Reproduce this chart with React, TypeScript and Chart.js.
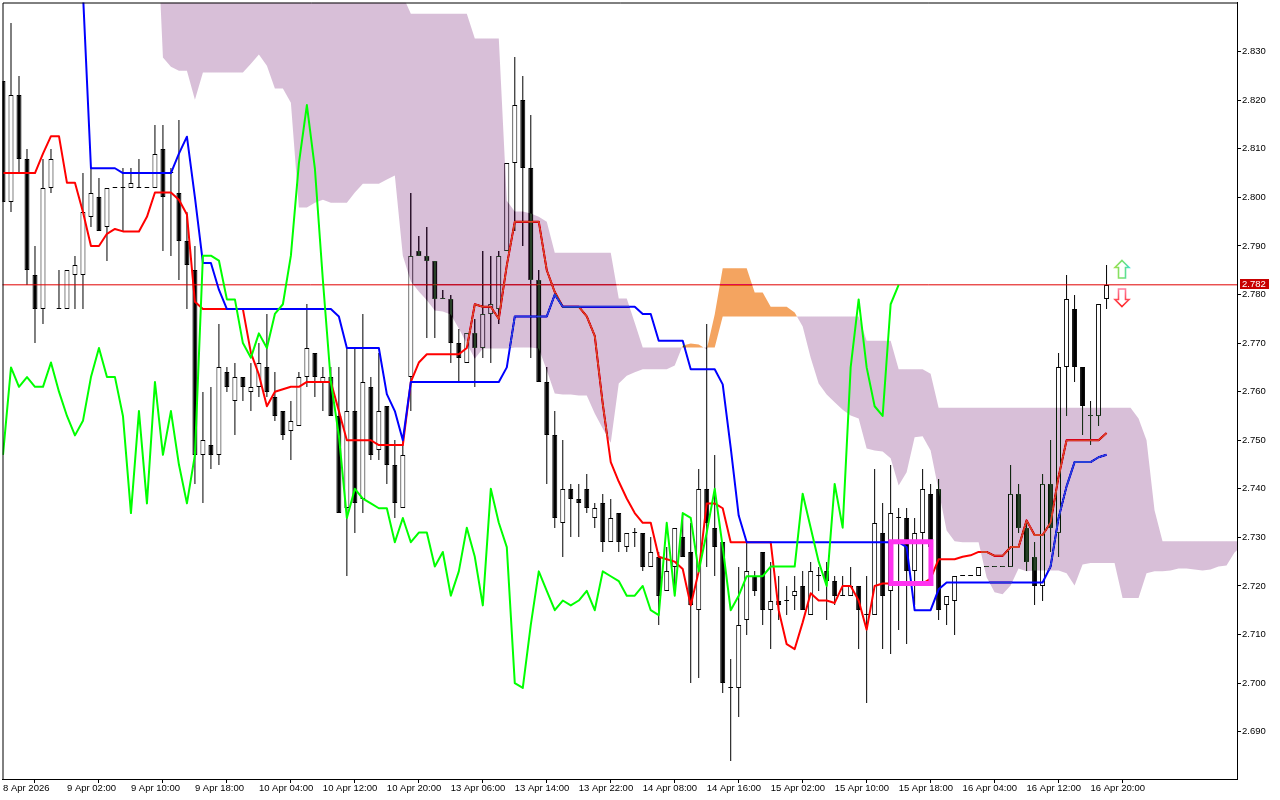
import React, { useEffect, useRef } from "react";
import { Chart, registerables } from "chart.js";

Chart.register(...registerables);

const opens = [
  2.824,2.799,2.821,2.808,2.784,2.777,2.802,2.777,2.777,2.784,
  2.784,2.796,2.800,2.794,2.802,2.802,2.802,2.802,2.802,2.802,
  2.810,2.805,2.801,2.791,2.785,2.747,2.749,2.747,2.764,2.758,
  2.763,2.760,2.761,2.765,2.759,2.756,2.752,2.753,2.763,2.768,
  2.762,2.763,2.755,2.736,2.756,2.738,2.761,2.748,2.757,2.745,
  2.736,2.763,2.789,2.788,2.787,2.779,2.779,2.770,2.766,2.772,
  2.769,2.776,2.777,2.789,2.807,2.820,2.806,2.783,2.762,2.751,
  2.733,2.740,2.738,2.740,2.734,2.737,2.729,2.735,2.728,2.731,
  2.731,2.724,2.726,2.719,2.724,2.730,2.727,2.715,2.740,2.732,
  2.729,2.699,2.699,2.713,2.722,2.727,2.715,2.717,2.717,2.718,
  2.720,2.714,2.722,2.723,2.721,2.718,2.718,2.720,2.714,2.714,
  2.731,2.719,2.734,2.734,2.723,2.731,2.739,2.740,2.716,2.717,
  2.722,2.722,2.722,2.724,2.724,2.724,2.724,2.739,2.732,2.726,
  2.720,2.741,2.731,2.765,2.777,2.765,2.755,2.755,2.779,
];
const highs = [
  2.824,2.836,2.825,2.810,2.790,2.808,2.810,2.785,2.785,2.788,
  2.805,2.806,2.804,2.802,2.802,2.806,2.806,2.808,2.802,2.815,
  2.815,2.806,2.816,2.797,2.790,2.760,2.761,2.774,2.765,2.766,
  2.763,2.766,2.770,2.776,2.764,2.756,2.758,2.764,2.778,2.768,
  2.765,2.765,2.765,2.769,2.769,2.776,2.763,2.768,2.757,2.750,
  2.751,2.801,2.792,2.794,2.787,2.781,2.780,2.773,2.772,2.775,
  2.789,2.788,2.789,2.807,2.829,2.825,2.817,2.785,2.765,2.756,
  2.750,2.741,2.741,2.743,2.737,2.739,2.738,2.735,2.731,2.732,
  2.731,2.730,2.727,2.728,2.732,2.735,2.733,2.744,2.774,2.747,
  2.729,2.705,2.724,2.729,2.723,2.727,2.725,2.722,2.720,2.722,
  2.723,2.725,2.724,2.725,2.722,2.722,2.724,2.720,2.722,2.744,
  2.737,2.745,2.736,2.736,2.734,2.744,2.741,2.742,2.718,2.722,
  2.722,2.722,2.724,2.724,2.724,2.724,2.745,2.741,2.733,2.729,
  2.743,2.750,2.768,2.784,2.780,2.765,2.758,2.778,2.786,
];
const lows = [
  2.799,2.797,2.805,2.782,2.770,2.774,2.801,2.777,2.777,2.777,
  2.777,2.794,2.793,2.787,2.802,2.793,2.802,2.802,2.802,2.802,
  2.789,2.788,2.783,2.777,2.741,2.737,2.744,2.745,2.760,2.751,
  2.758,2.756,2.759,2.759,2.754,2.750,2.746,2.753,2.761,2.759,
  2.756,2.755,2.735,2.722,2.731,2.735,2.746,2.746,2.741,2.734,
  2.736,2.756,2.788,2.771,2.771,2.779,2.766,2.762,2.766,2.761,
  2.767,2.766,2.774,2.789,2.793,2.790,2.767,2.762,2.741,2.732,
  2.726,2.730,2.730,2.735,2.732,2.727,2.729,2.727,2.727,2.728,
  2.723,2.724,2.712,2.719,2.719,2.726,2.700,2.701,2.724,2.722,
  2.698,2.684,2.693,2.710,2.718,2.712,2.707,2.713,2.714,2.715,
  2.715,2.714,2.719,2.713,2.716,2.718,2.718,2.707,2.696,2.714,
  2.707,2.706,2.711,2.708,2.716,2.721,2.721,2.713,2.712,2.710,
  2.722,2.722,2.722,2.724,2.724,2.724,2.724,2.731,2.723,2.716,
  2.717,2.727,2.726,2.755,2.762,2.751,2.749,2.753,2.777,
];
const closes = [
  2.799,2.821,2.808,2.785,2.777,2.802,2.808,2.777,2.785,2.786,
  2.797,2.801,2.793,2.802,2.802,2.802,2.803,2.802,2.802,2.809,
  2.800,2.805,2.791,2.786,2.747,2.750,2.747,2.765,2.761,2.763,
  2.761,2.761,2.766,2.760,2.755,2.751,2.754,2.763,2.769,2.763,
  2.763,2.755,2.735,2.756,2.737,2.762,2.747,2.756,2.745,2.737,
  2.747,2.788,2.788,2.787,2.779,2.779,2.770,2.767,2.772,2.769,
  2.776,2.778,2.788,2.807,2.819,2.806,2.783,2.762,2.751,2.734,
  2.740,2.738,2.737,2.736,2.736,2.729,2.734,2.729,2.731,2.731,
  2.724,2.727,2.718,2.723,2.732,2.726,2.716,2.740,2.733,2.728,
  2.700,2.699,2.712,2.723,2.719,2.715,2.717,2.716,2.717,2.719,
  2.715,2.723,2.722,2.721,2.718,2.718,2.720,2.715,2.714,2.733,
  2.718,2.735,2.734,2.723,2.731,2.740,2.728,2.715,2.718,2.722,
  2.722,2.722,2.724,2.724,2.724,2.724,2.739,2.732,2.725,2.720,
  2.741,2.732,2.765,2.779,2.765,2.757,2.755,2.778,2.782,
];
const tenkan = [
  2.805,2.805,2.805,2.805,2.805,2.809,2.8126,2.8126,2.803,2.803,
  2.797,2.790,2.790,2.7925,2.7935,2.793,2.793,2.793,2.796,2.801,
  2.801,2.801,2.7995,2.7965,2.7785,2.777,2.777,2.777,2.777,2.777,
  2.777,2.768,2.7635,2.757,2.760,2.7605,2.761,2.761,2.762,2.762,
  2.762,2.762,2.756,2.750,2.750,2.750,2.750,2.749,2.749,2.749,
  2.749,2.762,2.766,2.7677,2.7677,2.7677,2.7677,2.7677,2.769,2.778,
  2.7775,2.7775,2.775,2.786,2.795,2.795,2.795,2.795,2.785,2.7805,
  2.7775,2.7775,2.7775,2.7755,2.7715,2.7575,2.7455,2.7415,2.738,2.735,
  2.733,2.733,2.726,2.7255,2.725,2.7235,2.716,2.723,2.737,2.737,
  2.736,2.729,2.729,2.729,2.729,2.729,2.729,2.715,2.708,2.707,
  2.7125,2.7185,2.717,2.717,2.7165,2.720,2.720,2.717,2.711,2.720,
  2.7205,2.7205,2.7205,2.7205,2.7205,2.7205,2.7215,2.7255,2.7255,2.7255,
  2.726,2.7263,2.727,2.727,2.7262,2.7262,2.728,2.728,2.7335,2.7305,
  2.7305,2.733,2.7425,2.750,2.750,2.750,2.750,2.750,2.7515,
];
const kijunStart = 10;
const kijun = [
  2.842,2.806,2.806,2.806,2.806,2.805,2.805,2.805,2.805,2.805,2.805,2.805,
  2.809,2.8125,2.800,2.7865,2.7865,2.781,
  2.777,2.777,2.777,2.777,2.777,2.777,2.777,2.777,2.777,2.777,2.777,2.777,2.777,2.777,
  2.7755,2.769,2.769,2.769,2.769,2.769,2.7595,2.756,2.750,
  2.762,2.762,2.762,2.762,2.762,2.762,2.762,2.762,2.762,2.762,2.762,2.762,
  2.765,2.7755,2.7755,2.7755,2.7755,2.7755,2.780,
  2.7775,2.7775,2.7775,2.7775,2.7775,2.7775,2.7775,2.7775,2.7775,2.7775,
  2.776,2.776,2.7705,2.7705,2.7705,2.7705,2.7646,2.7646,2.7646,2.7646,2.7615,2.7485,2.7345,
  2.729,2.729,2.729,2.729,2.729,2.729,2.729,2.729,2.729,2.729,
  2.729,2.729,2.729,2.729,2.729,2.729,2.729,2.729,2.729,2.729,
  2.728,2.715,2.715,2.715,2.7193,
  2.7207,2.7207,2.7207,2.7207,2.7207,2.7207,2.7207,2.7207,2.7207,2.7207,2.7207,2.7207,2.7207,
  2.724,2.734,2.7405,2.7455,2.7455,2.7455,2.7465,2.747,
];
const chikou = [
  2.747,2.765,2.761,2.763,
  2.761,2.761,2.766,2.760,2.755,2.751,2.754,2.763,2.769,2.763,
  2.763,2.755,2.735,2.756,2.737,2.762,2.747,2.756,2.745,2.737,
  2.747,2.788,2.788,2.787,2.779,2.779,2.770,2.767,2.772,2.769,
  2.776,2.778,2.788,2.807,2.819,2.806,2.783,2.762,2.751,2.734,
  2.740,2.738,2.737,2.736,2.736,2.729,2.734,2.729,2.731,2.731,
  2.724,2.727,2.718,2.723,2.732,2.726,2.716,2.740,2.733,2.728,
  2.700,2.699,2.712,2.723,2.719,2.715,2.717,2.716,2.717,2.719,
  2.715,2.723,2.722,2.721,2.718,2.718,2.720,2.715,2.714,2.733,
  2.718,2.735,2.734,2.723,2.731,2.740,2.728,2.715,2.718,2.722,
  2.722,2.722,2.724,2.724,2.724,2.724,2.739,2.732,2.725,2.720,
  2.741,2.732,2.765,2.779,2.765,2.757,2.755,2.778,2.782,
];
const cloudStart = 19;
const senkouA = [
  2.8658,2.8288,2.8269,2.8261,2.8261,2.8201,2.8257,2.8257,2.8257,2.8257,2.8257,2.8257,
  2.8275,2.8294,2.8271,2.8224,2.8224,2.8195,2.7979,2.7979,2.7989,2.7995,2.7989,2.7989,2.7989,
  2.8010,2.8028,2.8028,2.8028,2.8037,2.8045,2.7880,2.7827,2.7806,2.7788,2.7767,2.7765,2.7759,
  2.7730,2.7699,2.7668,2.7689,2.7689,2.7689,2.7689,2.7691,2.7691,2.7691,2.7689,2.7644,2.7596,
  2.7594,2.7594,2.7592,2.7592,2.7555,2.7524,2.7495,2.7617,2.7633,2.7640,2.7646,2.7646,2.7646,2.7646,
  2.7654,2.7695,2.7699,2.7697,2.7687,2.7759,2.7854,2.7854,2.7854,2.7854,2.7804,2.7804,
  2.7775,2.7775,2.7775,2.7763,2.7734,2.7670,2.7617,2.7594,2.7578,2.7563,2.7551,2.7545,
  2.7483,2.7479,2.7477,2.7463,2.7407,2.7434,2.7506,2.7508,2.7479,2.7397,2.7314,2.7292,
  2.7290,2.7290,2.7290,2.7218,2.7187,2.7183,2.7201,2.7236,2.7230,2.7232,2.7232,2.7232,2.7232,
  2.7226,2.7201,2.7244,2.7247,2.7247,2.7247,2.7247,2.7175,2.7175,2.7175,2.7226,2.7230,2.7230,
  2.7232,2.7236,2.7236,2.7234,2.7232,2.7234,2.7240,2.7242,2.7269,2.7284,
];
const senkouB = [
  2.8658,
  2.88,2.88,2.88,2.88,2.88,2.88,2.88,2.88,2.88,2.88,
  2.88,2.88,2.88,2.88,2.88,2.88,2.88,2.88,2.88,2.88,
  2.88,2.88,2.88,2.88,2.88,2.88,2.88,2.88,2.88,2.88,
  2.8415,2.8378,2.8378,2.8378,2.8378,2.8378,2.8378,2.8378,2.8378,
  2.8327,2.8327,2.8327,2.8327,2.7993,2.7971,2.7971,2.7967,2.7960,2.7950,
  2.7886,2.7886,2.7886,2.7886,2.7886,2.7886,2.7886,2.7886,
  2.7792,2.7792,2.7742,
  2.7691,2.7691,2.7691,2.7691,2.7691,2.7691,2.7691,2.7691,2.7691,2.7691,
  2.7755,2.7755,2.7755,2.7755,2.7755,2.7755,2.7755,2.7755,2.7755,
  2.7755,2.7755,2.7755,2.7755,2.7755,2.7755,2.7755,2.7755,2.7755,
  2.7705,2.7705,2.7705,2.7705,2.7646,2.7646,2.7646,2.7646,2.7637,
  2.7567,2.7567,2.7567,2.7567,2.7567,2.7567,2.7567,2.7567,2.7567,2.7567,2.7567,2.7567,2.7567,
  2.7567,2.7567,2.7567,2.7567,2.7567,2.7567,2.7567,2.7567,2.7567,2.7567,2.7567,2.7567,
  2.7545,2.7500,2.7356,
  2.7292,2.7292,2.7292,2.7292,2.7292,2.7292,2.7292,2.7292,2.7292,2.7292,2.7292,
];
const timeLabels = [
  "8 Apr 2026","9 Apr 02:00","9 Apr 10:00","9 Apr 18:00","10 Apr 04:00","10 Apr 12:00",
  "10 Apr 20:00","13 Apr 06:00","13 Apr 14:00","13 Apr 22:00","14 Apr 08:00","14 Apr 16:00",
  "15 Apr 02:00","15 Apr 10:00","15 Apr 18:00","16 Apr 04:00","16 Apr 12:00","16 Apr 20:00",
];
const timeLabelStep = 8;
const priceTicks = [2.69,2.70,2.71,2.72,2.73,2.74,2.75,2.76,2.77,2.78,2.79,2.80,2.81,2.82,2.83];
const lastPrice = 2.782;
const boxBars = [111.04, 116.04];
const boxPrices = [2.7291, 2.7205];
const arrowBar = 140;
const arrowUpPrice = 2.7853;
const arrowDownPrice = 2.7793;

const FONT = "'Liberation Sans', Arial, sans-serif";
// Colours that turn white into the cloud's thistle / sandy brown under "difference" blending.
const THISTLE_BLEND = "#274027";
const SANDY_BLEND = "#0b5b9f";
const pts = (vals: number[], start = 0) => vals.map((y, i) => ({ x: i + start, y }));

const crispBars = {
  id: "crispBars",
  afterDatasetsUpdate(chart: any) {
    chart.getSortedVisibleDatasetMetas().forEach((m: any) => {
      if (m.type !== "bar") return;
      m.data.forEach((el: any) => {
        el.y = Math.round(el.y);
        el.base = Math.round(el.base);
      });
    });
  },
};

const xorCloud = {
  id: "xorCloud",
  beforeDraw(chart: any) {
    const c = chart.ctx;
    c.save();
    c.fillStyle = "#ffffff";
    c.fillRect(0, 0, chart.width, chart.height);
    c.restore();
  },
  afterDatasetDraw(chart: any, args: any) {
    const label = chart.data.datasets[args.index].label;
    if (label === "Senkou B") chart.ctx.globalCompositeOperation = "difference";
    if (label === "Senkou A") chart.ctx.globalCompositeOperation = "source-over";
  },
};

const overlays = {
  id: "overlays",
  afterDraw(chart: any) {
    const c = chart.ctx;
    const a = chart.chartArea;
    const x = chart.scales.x;
    const y = chart.scales.y;
    c.save();
    c.globalCompositeOperation = "source-over";
    c.strokeStyle = "#000";
    c.lineWidth = 1;
    c.beginPath();
    c.moveTo(a.left + 0.5, a.bottom);
    c.lineTo(a.left + 0.5, a.top + 0.5);
    c.lineTo(a.right + 0.5, a.top + 0.5);
    c.lineTo(a.right + 0.5, a.bottom);
    c.stroke();

    const ax = Math.floor(x.getPixelForValue(arrowBar));
    const up = Math.round(y.getPixelForValue(arrowUpPrice));
    const dn = Math.round(y.getPixelForValue(arrowDownPrice));
    const poly = (dir: number, cy: number) => {
      c.beginPath();
      c.moveTo(ax, cy - 8.5 * dir);
      c.lineTo(ax + 7, cy - 1.5 * dir);
      c.lineTo(ax + 3.5, cy - 1.5 * dir);
      c.lineTo(ax + 3.5, cy + 9 * dir);
      c.lineTo(ax - 3.5, cy + 9 * dir);
      c.lineTo(ax - 3.5, cy - 1.5 * dir);
      c.lineTo(ax - 7, cy - 1.5 * dir);
      c.closePath();
    };
    c.fillStyle = "#ffffff";
    c.lineWidth = 1.6;
    const gu = c.createLinearGradient(ax - 8, 0, ax + 8, 0);
    gu.addColorStop(0, "#a0e050");
    gu.addColorStop(0.55, "#70e070");
    gu.addColorStop(1, "#40e0d0");
    poly(1, up);
    c.fill();
    c.strokeStyle = gu;
    c.stroke();
    const gd = c.createLinearGradient(0, dn - 9, 0, dn + 9);
    gd.addColorStop(0, "#ff80a0");
    gd.addColorStop(1, "#ff2020");
    poly(-1, dn);
    c.fill();
    c.strokeStyle = gd;
    c.stroke();

    const py = Math.floor(y.getPixelForValue(lastPrice));
    c.fillStyle = "#c80000";
    c.fillRect(1240, py - 5, 29, 10);
    c.fillStyle = "#ffffff";
    c.font = `9.5px ${FONT}`;
    c.textAlign = "left";
    c.textBaseline = "middle";
    c.fillText(lastPrice.toFixed(3), 1242, py + 0.5);
    c.restore();
  },
};

export default function App() {
  const ref = useRef<HTMLCanvasElement | null>(null);
  useEffect(() => {
    const line = (label: string, data: any[], color: string, order: number, width = 2, extra: any = {}) => ({
      type: "line",
      label,
      data,
      borderColor: color,
      borderWidth: width,
      pointRadius: 0,
      tension: 0,
      fill: false,
      order,
      borderJoinStyle: "round",
      ...extra,
    });
    const clearPad = (s: any) => {
      s.paddingTop = 0;
      s.paddingBottom = 0;
      s.paddingLeft = 0;
      s.paddingRight = 0;
    };
    const cloudIndex = 6;
    const chart = new Chart(ref.current as HTMLCanvasElement, {
      type: "bar",
      data: {
        datasets: [
          {
            type: "bar",
            label: "Wick",
            data: highs.map((h, i) => ({ x: i, y: [lows[i], h] })),
            backgroundColor: "#000",
            barThickness: 1,
            grouped: false,
            borderWidth: 0,
            inflateAmount: 0,
            order: 10,
          },
          {
            type: "bar",
            label: "Body",
            data: opens.map((o, i) => ({ x: i, y: [Math.min(o, closes[i]), Math.max(o, closes[i])] })),
            backgroundColor: opens.map((o, i) => (closes[i] >= o ? "#ffffff" : "#000000")),
            borderColor: "#000",
            borderWidth: 1,
            borderSkipped: false,
            barThickness: 5,
            minBarLength: 1,
            grouped: false,
            inflateAmount: 0,
            order: 9,
          },
          line("Price", [{ x: -1, y: lastPrice }, { x: 156, y: lastPrice }], "#e00000", 8, 1),
          line("Tenkan", pts(tenkan), "#ff0000", 7),
          line("Kijun", pts(kijun, kijunStart), "#0000ff", 6),
          line("Senkou B", pts(senkouB, cloudStart), "rgba(0,0,0,0)", 5, 0),
          line("Senkou A", pts(senkouA, cloudStart), "rgba(0,0,0,0)", 4, 0, {
            fill: { target: 5, above: THISTLE_BLEND, below: THISTLE_BLEND },
          }),
          line("Chikou", pts(chikou), "#00ff00", 3),
          line(
            "Box",
            [
              { x: (boxBars[0] + boxBars[1]) / 2, y: boxPrices[0] },
              { x: boxBars[1], y: boxPrices[0] },
              { x: boxBars[1], y: boxPrices[1] },
              { x: boxBars[0], y: boxPrices[1] },
              { x: boxBars[0], y: boxPrices[0] },
              { x: (boxBars[0] + boxBars[1]) / 2, y: boxPrices[0] },
            ],
            "#ff33f0",
            2,
            5,
            { borderJoinStyle: "miter" }
          ),
        ] as any,
      },
      options: {
        animation: false,
        responsive: false,
        devicePixelRatio: 1,
        events: [],
        layout: { padding: { left: 2, top: 2, right: 0, bottom: 0 } },
        plugins: { legend: { display: false }, tooltip: { enabled: false } },
        scales: {
          x: {
            type: "linear",
            offset: false,
            min: -0.0625,
            max: 154.3125,
            afterFit: (s: any) => { s.height = 21; clearPad(s); },
            afterBuildTicks: (s: any) => {
              s.ticks = timeLabels.map((_, i) => ({ value: i * timeLabelStep }));
            },
            border: { display: true, color: "#000", width: 1 },
            grid: { drawOnChartArea: false, drawTicks: true, tickLength: 4, tickColor: "#000", tickWidth: 1 },
            ticks: {
              autoSkip: false,
              maxRotation: 0,
              minRotation: 0,
              align: "start",
              padding: 0,
              color: "#000",
              font: { family: FONT, size: 9.5 },
              callback: (v: any) => timeLabels[Math.round(Number(v) / timeLabelStep)] ?? "",
            },
          },
          y: {
            type: "linear",
            position: "right",
            beginAtZero: false,
            min: 2.680251,
            max: 2.840128,
            afterFit: (s: any) => { s.width = 43; clearPad(s); },
            afterBuildTicks: (s: any) => {
              s.ticks = priceTicks.map((value) => ({ value }));
            },
            border: { display: true, color: "#000", width: 1 },
            grid: { drawOnChartArea: false, drawTicks: true, tickLength: 4, tickColor: "#000", tickWidth: 1 },
            ticks: {
              padding: 1,
              color: "#000",
              font: { family: FONT, size: 9.5 },
              callback: (v: any) => Number(v).toFixed(3),
            },
          },
        },
      } as any,
      plugins: [crispBars, xorCloud, overlays],
    } as any);

    // One fill colour per stretch of the cloud: sandy where span A is above span B, thistle elsewhere.
    const xs = chart.scales.x;
    const left = xs.getPixelForValue(cloudStart);
    const right = xs.getPixelForValue(cloudStart + senkouA.length);
    const grad = chart.ctx.createLinearGradient(left, 0, right, 0);
    const stopAt = (bar: number) => (xs.getPixelForValue(bar) - left) / (right - left);
    let current = THISTLE_BLEND;
    grad.addColorStop(0, current);
    for (let i = 1; i < senkouA.length; i++) {
      const d0 = senkouA[i - 1] - senkouB[i - 1];
      const d1 = senkouA[i] - senkouB[i];
      if (d0 * d1 < 0) {
        const at = stopAt(cloudStart + i - 1 + d0 / (d0 - d1));
        grad.addColorStop(at, current);
        current = d1 > 0 ? SANDY_BLEND : THISTLE_BLEND;
        grad.addColorStop(at, current);
      }
    }
    grad.addColorStop(1, current);
    (chart.data.datasets[cloudIndex] as any).fill = { target: 5, above: grad, below: grad };
    chart.update("none");

    return () => chart.destroy();
  }, []);
  return (
    <div style={{ position: "fixed", left: 0, top: 0, width: 1280, height: 800, background: "#fff" }}>
      <canvas ref={ref} width={1280} height={800} style={{ display: "block", width: 1280, height: 800 }} />
    </div>
  );
}
